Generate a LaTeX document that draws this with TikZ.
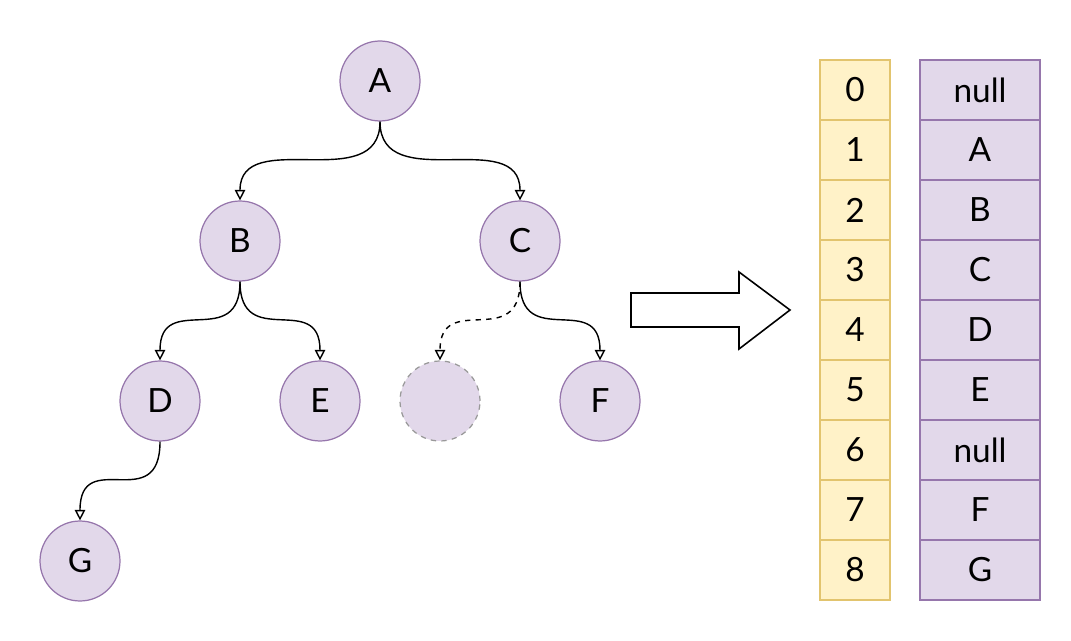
\documentclass[tikz,border=0pt]{standalone}
\usepackage{fontspec}
\setmainfont{Lato}
\usetikzlibrary{arrows.meta}
\definecolor{nodefill}{RGB}{226,216,234}
\definecolor{nodeline}{RGB}{150,118,172}
\definecolor{idxfill}{RGB}{255,242,200}
\definecolor{idxline}{RGB}{226,196,110}
\begin{document}
\begin{tikzpicture}[x=0.02cm,y=-0.02cm,
	treenode/.style={circle,fill=nodefill,draw=nodeline,line width=0.7pt,minimum size=1.6cm,inner sep=0pt,font=\fontsize{19}{22}\selectfont},
	holenode/.style={treenode,draw=gray!80,dashed},
	idxcell/.style={rectangle,fill=idxfill,draw=idxline,line width=0.6pt,minimum width=1.4cm,minimum height=1.2cm,inner sep=0pt,font=\fontsize{19}{22}\selectfont},
	valcell/.style={rectangle,fill=nodefill,draw=nodeline,line width=0.6pt,minimum width=2.4cm,minimum height=1.2cm,inner sep=0pt,font=\fontsize{19}{22}\selectfont},
	edge/.style={-{Triangle[open,length=6pt,width=6pt]},line width=0.8pt}]
	   \useasboundingbox (0,0) rectangle (1071,641);
	   \node [treenode] (A) at (380,81) {A};
	   \node [treenode] (B) at (240,241) {B};
	   \node [treenode] (C) at (520,241) {C};
	   \node [treenode] (D) at (160,401) {D};
	   \node [treenode] (E) at (320,401) {E};
	   \node [holenode] (H) at (440,401) {};
	   \node [treenode] (F) at (600,401) {F};
	   \node [treenode] (G) at (80,561) {G};
	   \draw [edge] (A.south) .. controls +(0,75) and +(0,-75) .. (B.north);
	   \draw [edge] (A.south) .. controls +(0,75) and +(0,-75) .. (C.north);
	   \draw [edge] (B.south) .. controls +(0,70) and +(0,-70) .. (D.north);
	   \draw [edge] (B.south) .. controls +(0,70) and +(0,-70) .. (E.north);
	   \draw [edge,dashed] (C.south) .. controls +(0,70) and +(0,-70) .. (H.north);
	   \draw [edge] (C.south) .. controls +(0,70) and +(0,-70) .. (F.north);
	   \draw [edge] (D.south) .. controls +(0,75) and +(0,-75) .. (G.north);
	   \draw [line width=0.9pt,line join=miter] (631,293) -- (739,293) -- (739,272) -- (790,310) -- (739,349) -- (739,327) -- (631,327) -- cycle;
	   \node [idxcell] (i0) at (855,90) {0};
	   \node [idxcell] (i1) at (855,150) {1};
	   \node [idxcell] (i2) at (855,210) {2};
	   \node [idxcell] (i3) at (855,270) {3};
	   \node [idxcell] (i4) at (855,330) {4};
	   \node [idxcell] (i5) at (855,390) {5};
	   \node [idxcell] (i6) at (855,450) {6};
	   \node [idxcell] (i7) at (855,510) {7};
	   \node [idxcell] (i8) at (855,570) {8};
	   \node [valcell] (v0) at (980,90) {null};
	   \node [valcell] (v1) at (980,150) {A};
	   \node [valcell] (v2) at (980,210) {B};
	   \node [valcell] (v3) at (980,270) {C};
	   \node [valcell] (v4) at (980,330) {D};
	   \node [valcell] (v5) at (980,390) {E};
	   \node [valcell] (v6) at (980,450) {null};
	   \node [valcell] (v7) at (980,510) {F};
	   \node [valcell] (v8) at (980,570) {G};
	\end{tikzpicture}
\end{document}
